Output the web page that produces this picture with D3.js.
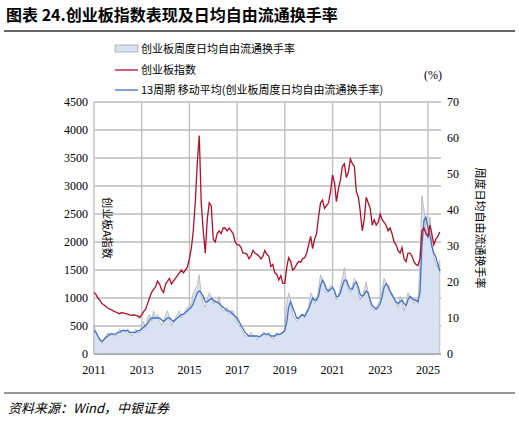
<!DOCTYPE html>
<html><head><meta charset="utf-8">
<script src="https://cdn.jsdelivr.net/npm/d3@7"></script>
<style>body{margin:0;background:#fff}</style>
</head><body><div id="viz"></div>
<script>
// monthly values starting Jan 2011
const startYear = 2011;
const indexVals = [
  1100,1060,1000,960,900,880,850,820,800,790,760,750,
  730,720,740,730,720,710,700,690,700,690,680,650,
  700,760,800,900,1000,1100,1150,1200,1300,1250,1150,1100,
  1250,1300,1350,1250,1300,1350,1400,1450,1500,1450,1500,1550,
  1700,1900,2200,2700,3400,3900,2700,2200,1800,2400,2700,2650,
  2050,2000,2150,2200,2150,2250,2250,2200,2250,2200,2150,2000,
  1950,1950,1900,1800,1800,1780,1700,1750,1850,1800,1780,1750,
  1700,1750,1850,1780,1750,1560,1600,1450,1420,1320,1400,1260,
  1260,1550,1720,1650,1500,1530,1600,1650,1640,1700,1720,1800,
  1950,2100,1880,2050,2150,2450,2700,2750,2600,2650,2700,2900,
  3200,3050,2720,2950,3100,3350,3400,3150,3250,3480,3400,3350,
  2900,2800,2550,2200,2400,2800,2700,2600,2300,2400,2300,2350,
  2500,2400,2350,2300,2200,2250,2150,2000,1950,1850,1800,1900,
  1700,1650,1800,1800,1750,1650,1600,1580,1700,2200,2250,2150,
  2100,2300,2150,1950,2050,2100,2180
];
const turnover = [
  8,6,5,4,3,4,5,6,5,6,5,5,
  6,7,6,7,6,7,6,5,6,7,6,6,
  8,9,7,10,11,9,12,10,11,9,8,9,
  11,12,10,8,9,10,11,12,10,11,12,13,
  13,14,17,18,19,22,16,14,13,15,17,16,
  14,15,14,16,13,12,12,13,11,12,12,10,
  9,8,7,6,5,5,5,6,5,5,4,5,
  5,6,6,5,6,5,4,5,6,5,6,6,
  7,14,17,15,11,10,9,10,11,11,10,12,
  13,17,16,14,15,18,22,21,19,17,18,19,
  19,17,15,16,19,21,24,20,18,17,19,21,
  20,17,15,16,18,20,17,14,13,12,13,14,
  15,18,21,20,18,17,16,15,14,13,16,15,
  12,14,17,16,15,14,15,14,26,44,40,35,
  32,38,31,27,25,24,26
];
const ma13 = [
  6.5,6,5,4,3.5,4,4.5,5,5.5,5.5,5.5,5.5,
  6,6,6.5,6.5,6.5,6.5,6,6,6,6,6.5,6.5,
  7,7.5,8,8.5,9.5,10,10,10,10,10,9.5,9,
  9.5,10,10,9.5,9,9.5,10,10.5,11,11,11.5,12,
  12.5,13,14,15.5,17,17.5,17,16,14.5,14.5,15,15.5,
  15,14.5,14.5,14,13.5,13,12.5,12,12,11.5,11,10.5,
  10,9,8,7,6,5.5,5,5,5,5,5,4.8,
  5,5.5,5.5,5.5,5.5,5,5,5,5.5,5.5,5.5,6,
  6.5,9,13,14.5,13,11.5,10,10,10.5,11,10.5,11.5,
  12.5,14,15.5,15,15,16,19,20.5,19.5,18,17.5,18,
  18.5,17.5,16,16,17,19,20.5,20.5,19,18,18,19.5,
  20,18.5,16.5,16,16.5,17.5,17,15,13.5,13,12.5,13,
  14,16,18.5,19.5,19,17.5,16.5,15.5,14.5,14,14.5,15,
  14,13.5,15,16,15.5,15,15,14.5,17,30,37,38,
  35,33,30,28,27,25,23
];
const xTicks = [2011,2013,2015,2017,2019,2021,2023,2025];
const leftTicks = [0,500,1000,1500,2000,2500,3000,3500,4000,4500];
const rightTicks = [0,10,20,30,40,50,60,70];

const W = 519, H = 424;
const m = {top: 102, left: 94, right: 78, bottom: 70};
const svg = d3.select("#viz").append("svg").attr("width", W).attr("height", H)
  .style("font-family", "'Liberation Serif','Noto Sans CJK SC',serif");

const date = i => new Date(startYear, i, 1);
const x = d3.scaleTime().domain([new Date(2011,0,1), new Date(2025,6,20)]).range([m.left, W - m.right]);
const yL = d3.scaleLinear().domain([0,4500]).range([H - m.bottom, m.top]);
const yR = d3.scaleLinear().domain([0,70]).range([H - m.bottom, m.top]);

// title
svg.append("text").attr("x", 6).attr("y", 21).attr("font-size", 16).attr("font-weight", "bold")
  .attr("font-family", "'Noto Sans CJK SC',sans-serif").text("图表 24.创业板指数表现及日均自由流通换手率");
svg.append("line").attr("x1", 4).attr("x2", 515).attr("y1", 31).attr("y2", 31).attr("stroke", "#333").attr("stroke-width", 1.5);

// grid
const g = svg.append("g");
g.selectAll(".hg").data(leftTicks).enter().append("line")
  .attr("x1", m.left).attr("x2", W - m.right).attr("y1", d => yL(d)).attr("y2", d => yL(d))
  .attr("stroke", "#bdbdbd").attr("stroke-width", 1.3);
g.selectAll(".vg").data(xTicks).enter().append("line")
  .attr("x1", d => x(new Date(d,0,1))).attr("x2", d => x(new Date(d,0,1)))
  .attr("y1", m.top).attr("y2", H - m.bottom).attr("stroke", "#bdbdbd").attr("stroke-width", 1.3);

// turnover area
const area = d3.area().x((d, i) => x(date(i))).y0(yR(0)).y1(d => yR(d));
g.append("path").datum(turnover).attr("d", area).attr("fill", "#d9e2f3").attr("stroke", "#b0b0b0").attr("stroke-width", 0.8);

g.append("path").datum(ma13).attr("fill", "none").attr("stroke", "#4472c4").attr("stroke-width", 1.3)
  .attr("d", d3.line().x((d, i) => x(date(i))).y(d => yR(d)));
g.append("path").datum(indexVals).attr("fill", "none").attr("stroke", "#b0102a").attr("stroke-width", 1.3)
  .attr("d", d3.line().x((d, i) => x(date(i))).y(d => yL(d)));

// axes
g.append("line").attr("x1", m.left).attr("x2", W - m.right).attr("y1", yL(0)).attr("y2", yL(0)).attr("stroke", "#999");
svg.append("g").selectAll("text").data(leftTicks).enter().append("text")
  .attr("x", m.left - 6).attr("y", d => yL(d) + 4).attr("text-anchor", "end").attr("font-size", 12).text(d => d);
svg.append("g").selectAll("text").data(rightTicks).enter().append("text")
  .attr("x", W - m.right + 6).attr("y", d => yR(d) + 4).attr("font-size", 12).text(d => d);
svg.append("g").selectAll("text").data(xTicks).enter().append("text")
  .attr("x", d => x(new Date(d,0,1))).attr("y", H - m.bottom + 20).attr("text-anchor", "middle").attr("font-size", 12).text(d => d);

svg.append("text").attr("transform", `translate(103,${yL(2250)}) rotate(90)`).attr("text-anchor", "middle")
  .attr("font-size", 11).attr("font-family", "'Noto Sans CJK SC',sans-serif").text("创业板A指数");
svg.append("text").attr("transform", `translate(476,${yR(35)}) rotate(90)`).attr("text-anchor", "middle")
  .attr("font-size", 11).attr("font-family", "'Noto Sans CJK SC',sans-serif").text("周度日均自由流通换手率");
svg.append("text").attr("x", 424).attr("y", 79).attr("font-size", 12).text("(%)");

// legend
const lg = svg.append("g").attr("font-size", 11).attr("font-family", "'Noto Sans CJK SC',sans-serif");
lg.append("rect").attr("x", 115).attr("y", 45).attr("width", 23).attr("height", 7).attr("fill", "#d9e2f3").attr("stroke", "#999").attr("stroke-width", 0.7);
lg.append("text").attr("x", 141).attr("y", 53).text("创业板周度日均自由流通换手率");
lg.append("line").attr("x1", 115).attr("x2", 138).attr("y1", 70).attr("y2", 70).attr("stroke", "#b0102a").attr("stroke-width", 1.3);
lg.append("text").attr("x", 141).attr("y", 74).text("创业板指数");
lg.append("line").attr("x1", 115).attr("x2", 138).attr("y1", 90).attr("y2", 90).attr("stroke", "#4472c4").attr("stroke-width", 1.3);
lg.append("text").attr("x", 141).attr("y", 94).text("13周期 移动平均(创业板周度日均自由流通换手率)");

// footer
svg.append("line").attr("x1", 4).attr("x2", 515).attr("y1", 393).attr("y2", 393).attr("stroke", "#333").attr("stroke-width", 1.2);
svg.append("text").attr("x", 8).attr("y", 413).attr("font-size", 13).attr("font-style", "italic")
  .attr("font-family", "'Noto Sans CJK SC',sans-serif").text("资料来源：Wind，中银证券");
</script></body></html>
